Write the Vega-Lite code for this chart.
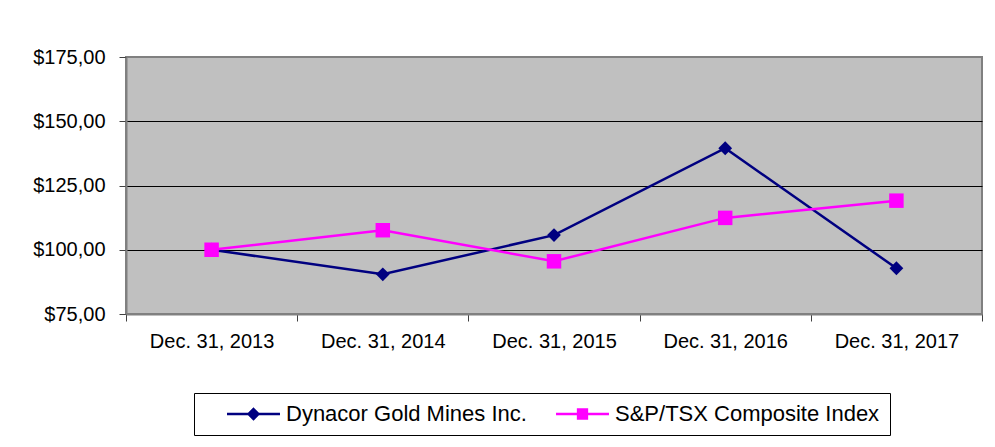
{
  "$schema": "https://vega.github.io/schema/vega-lite/v6.json",
  "width": 856,
  "height": 257,
  "autosize": "none",
  "padding": {"left": 126, "top": 57, "right": 13, "bottom": 133},
  "background": "white",
  "config": {
    "font": "Liberation Sans",
    "view": {"fill": "#C0C0C0", "stroke": "#808080", "strokeWidth": 2}
  },
  "data": {
    "values": [
      {"date": "Dec. 31, 2013", "series": "Dynacor Gold Mines Inc.", "value": 100},
      {"date": "Dec. 31, 2014", "series": "Dynacor Gold Mines Inc.", "value": 90.45},
      {"date": "Dec. 31, 2015", "series": "Dynacor Gold Mines Inc.", "value": 105.7},
      {"date": "Dec. 31, 2016", "series": "Dynacor Gold Mines Inc.", "value": 139.5},
      {"date": "Dec. 31, 2017", "series": "Dynacor Gold Mines Inc.", "value": 92.8},
      {"date": "Dec. 31, 2013", "series": "S&P/TSX Composite Index", "value": 100},
      {"date": "Dec. 31, 2014", "series": "S&P/TSX Composite Index", "value": 107.6},
      {"date": "Dec. 31, 2015", "series": "S&P/TSX Composite Index", "value": 95.5},
      {"date": "Dec. 31, 2016", "series": "S&P/TSX Composite Index", "value": 112.4},
      {"date": "Dec. 31, 2017", "series": "S&P/TSX Composite Index", "value": 119.1}
    ]
  },
  "encoding": {
    "x": {
      "field": "date",
      "type": "nominal",
      "sort": null,
      "scale": {"type": "band", "paddingInner": 0, "paddingOuter": 0},
      "axis": {
        "title": null,
        "labelAngle": 0,
        "tickBand": "extent",
        "tickSize": 7,
        "tickColor": "#404040",
        "tickWidth": 1,
        "labelPadding": 10,
        "labelFontSize": 20,
        "labelColor": "black",
        "domainColor": "#808080",
        "domainWidth": 2,
        "grid": false
      }
    },
    "y": {
      "field": "value",
      "type": "quantitative",
      "scale": {"domain": [75, 175], "nice": false, "zero": false},
      "axis": {
        "title": null,
        "values": [75, 100, 125, 150, 175],
        "labelExpr": "'$' + replace(format(datum.value, '.2f'), '.', ',')",
        "labelFontSize": 20,
        "labelColor": "black",
        "labelPadding": 14,
        "tickSize": 7,
        "tickColor": "#404040",
        "tickWidth": 1,
        "domainColor": "#808080",
        "domainWidth": 2,
        "grid": true,
        "gridColor": "black",
        "gridWidth": 1,
        "gridOpacity": {"condition": {"test": "datum.value === 175 || datum.value === 75", "value": 0}, "value": 1}
      }
    },
    "color": {
      "field": "series",
      "type": "nominal",
      "scale": {
        "domain": ["Dynacor Gold Mines Inc.", "S&P/TSX Composite Index"],
        "range": ["#000080", "#FF00FF"]
      },
      "legend": {
        "title": null,
        "orient": "none",
        "legendX": 68,
        "legendY": 336,
        "direction": "horizontal",
        "padding": 10,
        "strokeColor": "black",
        "fillColor": "white",
        "labelFontSize": 22,
        "labelColor": "black",
        "labelLimit": 500,
        "symbolSize": 256,
        "symbolOffset": 38.5,
        "labelOffset": 21.5,
        "columnPadding": 6,
        "symbolStrokeWidth": 2.5,
        "labelExpr": "datum.label === 'S&P/TSX Composite Index' ? datum.label + '    ' : datum.label",
        "encode": {
          "symbols": {
            "update": {
              "shape": {"signal": "datum.value === 'Dynacor Gold Mines Inc.' ? 'M-3.31,0L3.31,0M0,-0.62L0.62,0L0,0.62L-0.62,0Z' : 'M-3.31,0L3.31,0M-0.55,-0.55L0.55,-0.55L0.55,0.55L-0.55,0.55Z'"},
              "fill": {"signal": "scale('color', datum.value)"},
              "stroke": {"signal": "scale('color', datum.value)"},
              "strokeWidth": {"value": 2.5},
              "opacity": {"value": 1}
            }
          }
        }
      }
    }
  },
  "layer": [
    {
      "mark": {"type": "line", "strokeWidth": 2.5}
    },
    {
      "transform": [{"filter": "datum.series === 'Dynacor Gold Mines Inc.'"}],
      "mark": {"type": "point", "filled": true, "size": 190, "opacity": 1, "shape": "diamond"}
    },
    {
      "transform": [{"filter": "datum.series === 'S&P/TSX Composite Index'"}],
      "mark": {"type": "point", "filled": true, "size": 210, "opacity": 1, "shape": "square"}
    }
  ]
}
